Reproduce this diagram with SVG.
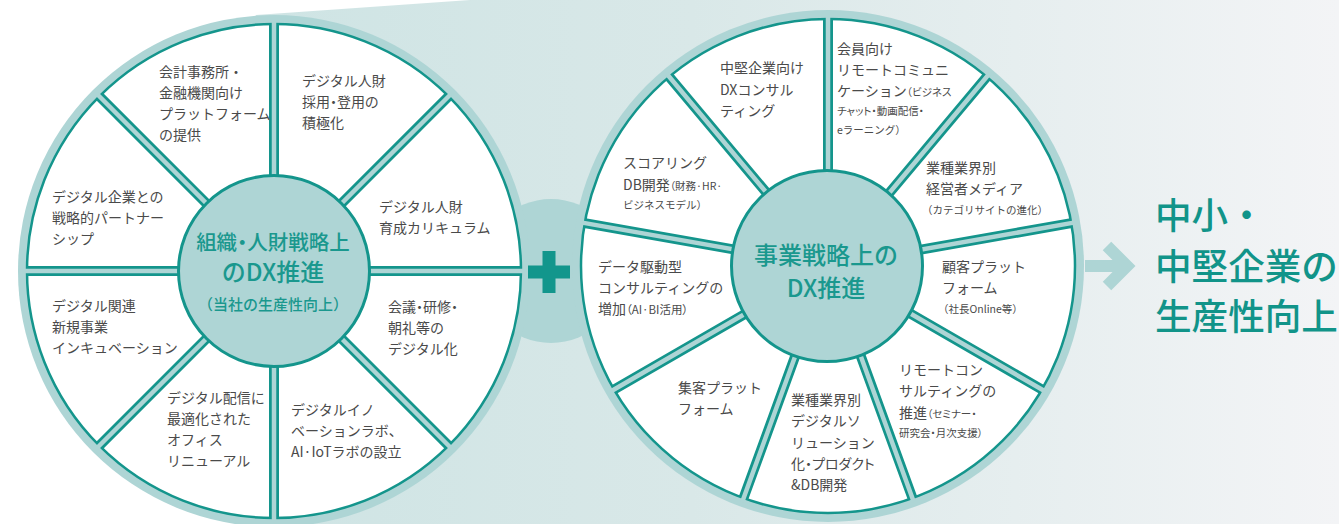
<svg xmlns="http://www.w3.org/2000/svg" width="1339" height="524" viewBox="0 0 1339 524">
<defs>
<linearGradient id="bg" gradientUnits="userSpaceOnUse" x1="260" y1="0" x2="1339" y2="0">
<stop offset="0" stop-color="#cee4e4"/>
<stop offset="0.4" stop-color="#d9e8e8"/>
<stop offset="0.7" stop-color="#e6eeef"/>
<stop offset="1" stop-color="#f3f4f6"/>
</linearGradient>
<style>
.band{fill:#aed5d5}
.disc{fill:#fff;stroke:#14958c;stroke-width:2.5}
.sd{stroke:#14958c;stroke-width:10;fill:none}
.sl{stroke:#aed5d5;stroke-width:4.5;fill:none}
.hub{fill:#aed5d5;stroke:#14958c;stroke-width:3}
text{font-family:"Noto Sans CJK JP","Noto Sans",sans-serif}
.lb{font-size:14px;fill:#4a4a4a}
.sm{font-size:10.5px}
.md{font-size:11.5px}
.pa{font-feature-settings:"palt"}
.ht{fill:#1a988e;font-weight:500;text-anchor:middle}
.big{font-size:36.6px;fill:#119489;font-weight:500}
.plus{fill:#12968c}
.arrow{stroke:#aed5d5;stroke-width:12;fill:none;stroke-linejoin:miter}
</style>
</defs>
<rect width="1339" height="524" fill="#ffffff"/>
<path d="M256,15 L470,0 L1339,0 L1339,524 L274,524 Z" fill="url(#bg)"/>
<circle class="band" cx="551" cy="271" r="72"/>

<g id="wheel-left">
<circle class="band" cx="274" cy="271" r="256"/>
<circle class="disc" cx="274" cy="271" r="247"/>
<path class="sd" d="M27,271 H521 M274,24 V518 M99.3,96.3 L448.7,445.7 M448.7,96.3 L99.3,445.7"/>
<path class="sl" d="M23,271 H525 M274,20 V522 M96.5,93.5 L451.5,448.5 M451.5,93.5 L96.5,448.5"/>
</g>

<g id="wheel-right">
<circle class="band" cx="828" cy="266" r="256"/>
<circle class="disc" cx="828" cy="266" r="247"/>
<path class="sd" d="M828,266 L828,19 M828,266 L986.8,76.8 M828,266 L1071.2,223.1 M828,266 L1041.9,389.5 M828,266 L912.5,498.1 M828,266 L743.5,498.1 M828,266 L614.1,389.5 M828,266 L584.8,223.1 M828,266 L669.2,76.8"/>
<path class="sl" d="M828,266 L828,15 M828,266 L989.3,73.7 M828,266 L1075.2,222.4 M828,266 L1045.4,391.5 M828,266 L913.8,501.9 M828,266 L742.2,501.9 M828,266 L610.6,391.5 M828,266 L580.8,222.4 M828,266 L666.7,73.7"/>
</g>

<g id="hub-left">
<circle class="hub" cx="274" cy="271" r="95.5"/>
<text class="ht pa" x="273" y="250" font-size="20.5">組織・人財戦略上</text>
<text class="ht" x="273" y="281" font-size="24">のDX推進</text>
<text class="ht" x="273" y="310" font-size="15">（当社の生産性向上）</text>
</g>

<g id="hub-right">
<circle class="hub" cx="827" cy="266" r="95.5"/>
<text class="ht" x="826" y="264" font-size="24">事業戦略上の</text>
<text class="ht" x="826" y="297" font-size="24">DX推進</text>
</g>

<g id="seg-l-a"><text class="lb" x="159" y="77">会計事務所・</text><text class="lb" x="159" y="98">金融機関向け</text><text class="lb" x="159" y="119">プラットフォーム</text><text class="lb" x="159" y="140">の提供</text></g>
<g id="seg-l-b"><text class="lb" x="302" y="86">デジタル人財</text><text class="lb pa" x="302" y="107">採用・登用の</text><text class="lb" x="302" y="128">積極化</text></g>
<g id="seg-l-c"><text class="lb" x="379" y="212">デジタル人財</text><text class="lb" x="379" y="233">育成カリキュラム</text></g>
<g id="seg-l-d"><text class="lb pa" x="388" y="312">会議・研修・</text><text class="lb" x="388" y="333">朝礼等の</text><text class="lb" x="388" y="354">デジタル化</text></g>
<g id="seg-l-e"><text class="lb" x="291" y="415">デジタルイノ</text><text class="lb" x="291" y="436">ベーションラボ、</text><text class="lb" x="291" y="457">AI·IoTラボの設立</text></g>
<g id="seg-l-f"><text class="lb" x="167" y="403">デジタル配信に</text><text class="lb" x="167" y="424">最適化された</text><text class="lb" x="167" y="445">オフィス</text><text class="lb" x="167" y="466">リニューアル</text></g>
<g id="seg-l-g"><text class="lb" x="52" y="311">デジタル関連</text><text class="lb" x="52" y="332">新規事業</text><text class="lb" x="52" y="353">インキュベーション</text></g>
<g id="seg-l-h"><text class="lb" x="52" y="202">デジタル企業との</text><text class="lb" x="52" y="223">戦略的パートナー</text><text class="lb" x="52" y="244">シップ</text></g>

<g id="seg-r-1"><text class="lb" x="720" y="73">中堅企業向け</text><text class="lb" x="720" y="95">DXコンサル</text><text class="lb" x="720" y="116">ティング</text></g>
<g id="seg-r-2"><text class="lb" x="837" y="54">会員向け</text><text class="lb" x="837" y="75">リモートコミュニ</text><text class="lb" x="837" y="96">ケーション<tspan class="sm pa">（ビジネス</tspan></text><text class="lb sm pa" x="837" y="115">チャット・動画配信・</text><text class="lb sm" x="837" y="134">eラーニング）</text></g>
<g id="seg-r-3"><text class="lb" x="926" y="173">業種業界別</text><text class="lb" x="926" y="194">経営者メディア</text><text class="lb sm" x="922" y="214">（カテゴリサイトの進化）</text></g>
<g id="seg-r-4"><text class="lb" x="942" y="272">顧客プラット</text><text class="lb" x="942" y="293">フォーム</text><text class="lb sm" x="938" y="313">（社長Online等）</text></g>
<g id="seg-r-5"><text class="lb" x="899" y="375">リモートコン</text><text class="lb" x="899" y="396">サルティングの</text><text class="lb" x="899" y="418">推進<tspan class="sm pa">（セミナー・</tspan></text><text class="lb sm pa" x="899" y="437">研究会・月次支援）</text></g>
<g id="seg-r-6"><text class="lb" x="791" y="405">業種業界別</text><text class="lb" x="791" y="426">デジタルソ</text><text class="lb" x="791" y="448">リューション</text><text class="lb pa" x="791" y="469">化・プロダクト</text><text class="lb" x="791" y="490">&amp;DB開発</text></g>
<g id="seg-r-7"><text class="lb" x="678" y="393">集客プラット</text><text class="lb" x="678" y="414">フォーム</text></g>
<g id="seg-r-8"><text class="lb" x="598" y="272">データ駆動型</text><text class="lb" x="598" y="293">コンサルティングの</text><text class="lb" x="598" y="314">増加<tspan class="md pa">（AI·BI活用）</tspan></text></g>
<g id="seg-r-9"><text class="lb" x="623" y="168">スコアリング</text><text class="lb" x="623" y="190">DB開発<tspan class="sm pa">（財務·HR·</tspan></text><text class="lb sm" x="623" y="209">ビジネスモデル）</text></g>

<g id="connectors">
<rect class="plus" x="528" y="265.5" width="42" height="13"/>
<rect class="plus" x="542.5" y="251" width="13" height="42"/>
<path class="arrow" d="M1085,266 H1127 M1107,246 L1127,266 L1107,286"/>
</g>

<g id="result">
<text class="big" x="1155" y="229">中小・</text>
<text class="big" x="1155" y="280">中堅企業の</text>
<text class="big" x="1155" y="330">生産性向上</text>
</g>
</svg>
